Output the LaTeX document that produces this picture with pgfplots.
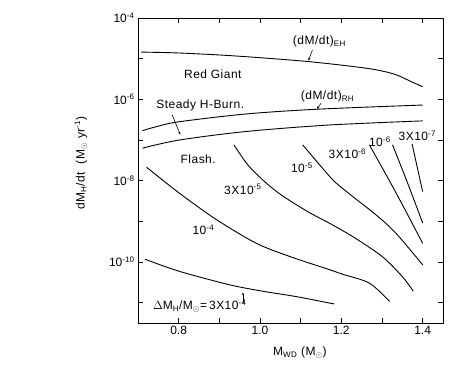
\documentclass[border=0pt]{standalone}
\usepackage{fontspec}
\setmainfont{Liberation Sans}
\usepackage{pgfplots}
\pgfplotsset{compat=1.18}
\usetikzlibrary{arrows.meta}
\newcommand{\tp}[1]{10\textsuperscript{-#1}}
\newcommand{\lbl}{\fontsize{12}{14}\selectfont\addfontfeatures{LetterSpace=4}}
\newcommand{\sun}{\textsubscript{$\odot$}}
\begin{document}
\begin{tikzpicture}[x=1pt,y=1pt]
\path[use as bounding box] (0,0) rectangle (469,372);
\begin{axis}[
    at={(138pt,49pt)}, anchor=south west,
    scale only axis, width=305pt, height=305pt,
    xmin=0.70, xmax=1.45,
    ymode=log, ymin=3.16e-12, ymax=1e-4,
    xtick={0.8,1.0,1.2,1.4},
    xticklabels={0.8,1.0,1.2,1.4},
    minor xtick={0.9,1.1,1.3},
    ytick={1e-11,1e-10,1e-9,1e-8,1e-7,1e-6,1e-5,1e-4},
    yticklabels={,\tp{10},,\tp{8},,\tp{6},,\tp{4}},
    yminorticks=false,
    tick align=inside,
    major tick length=5pt, minor tick length=5pt,
    every tick/.style={black, line width=0.7pt},
    axis line style={line width=0.9pt},
    ticklabel style={font=\fontsize{12}{14}\selectfont},
    xlabel={M\textsubscript{WD} (M\sun)},
    ylabel={dM\textsubscript{H}/dt\ \ (M\sun\ yr\textsuperscript{-1})},
    label style={font=\lbl},
    xlabel style={at={(axis description cs:0.531,-0.098)}, anchor=center},
    ylabel style={at={(axis description cs:-0.187,0.525)}, anchor=center},
    curve/.style={black, line width=0.9pt, smooth, tension=0.5, mark=none},
]
% (dM/dt)_EH
\addplot[curve] coordinates {(0.708,1.45e-5)(0.80,1.38e-5)(0.937,1.17e-5)(1.117,8.51e-6)(1.265,5.75e-6)(1.33,4.17e-6)(1.371,2.75e-6)(1.40,2.04e-6)};
% (dM/dt)_RH
\addplot[curve] coordinates {(0.711,1.70e-7)(0.75,2.19e-7)(0.802,2.82e-7)(0.966,4.37e-7)(1.146,5.75e-7)(1.40,7.24e-7)};
% lower steady burning boundary
\addplot[curve] coordinates {(0.711,6.31e-8)(0.802,1.00e-7)(0.966,1.62e-7)(1.171,2.34e-7)(1.40,2.95e-7)};
% flash curves
\addplot[curve] coordinates {(0.717,1.17e-10)(0.802,5.89e-11)(0.925,2.75e-11)(1.007,1.91e-11)(1.089,1.41e-11)(1.171,9.77e-12)(1.183,9.33e-12)};
\addplot[curve] coordinates {(0.721,2.14e-8)(0.802,4.90e-9)(0.893,1.10e-9)(0.991,2.88e-10)(1.072,1.38e-10)(1.171,6.46e-11)(1.203,5.0e-11)(1.269,3.02e-11)(1.319,1.07e-11)};
\addplot[curve] coordinates {(0.936,7.59e-8)(0.970,2.45e-8)(1.011,9.55e-9)(1.052,4.47e-9)(1.117,1.74e-9)(1.175,8.51e-10)(1.232,3.98e-10)(1.301,1.35e-10)(1.35,4.37e-11)(1.377,1.91e-11)};
\addplot[curve] coordinates {(1.105,7.59e-8)(1.150,2.24e-8)(1.183,9.55e-9)(1.228,4.07e-9)(1.285,1.45e-9)(1.334,5.13e-10)(1.40,8.51e-11)};
\addplot[curve] coordinates {(1.269,7.59e-8)(1.334,5.13e-9)(1.40,2.88e-10)};
\addplot[curve] coordinates {(1.326,7.59e-8)(1.363,8.71e-9)(1.40,9.12e-10)};
\addplot[curve] coordinates {(1.374,7.94e-8)(1.40,5.37e-9)};

% labels
\node[font=\lbl] at (axis cs:1.146,2.63e-5) {(dM/dt)\textsubscript{EH}};
\node[font=\lbl] at (axis cs:0.884,4.17e-6) {Red\ Giant};
\node[font=\lbl] at (axis cs:1.166,1.17e-6) {(dM/dt)\textsubscript{RH}};
\node[font=\lbl] at (axis cs:0.853,7.0e-7) {Steady\ H-Burn.};
\node[font=\lbl] at (axis cs:0.848,3.39e-8) {Flash.};
\node[font=\lbl] at (axis cs:0.861,6.17e-10) {\tp{4}};
\node[font=\lbl] at (axis cs:0.958,6.17e-9) {3X\tp{5}};
\node[font=\lbl] at (axis cs:1.103,2.04e-8) {\tp{5}};
\node[font=\lbl] at (axis cs:1.215,4.57e-8) {3X\tp{6}};
\node[font=\lbl] at (axis cs:1.295,9.1e-8) {\tp{6}};
\node[font=\lbl] at (axis cs:1.387,1.26e-7) {3X\tp{7}};
\node[font=\lbl] at (axis cs:0.852,8.1e-12) {$\Delta$M\textsubscript{H}/M\sun=\,3X\tp{4}};
% arrows
\draw[line width=0.6pt,-{Stealth[length=3pt,width=2.2pt]}] (axis cs:1.129,1.64e-5) -- (axis cs:1.119,8.9e-6);
\draw[line width=0.6pt,-{Stealth[length=3pt,width=2.2pt]}] (axis cs:1.150,8.0e-7) -- (axis cs:1.140,5.75e-7);
\draw[line width=0.6pt,-{Stealth[length=3pt,width=2.2pt]}] (axis cs:0.784,4.17e-7) -- (axis cs:0.804,1.35e-7);
\draw[line width=0.6pt,-{Stealth[length=3pt,width=2.2pt]}] (axis cs:0.958,9.8e-12) -- (axis cs:0.958,1.8e-11);
\end{axis}
\end{tikzpicture}
\end{document}
